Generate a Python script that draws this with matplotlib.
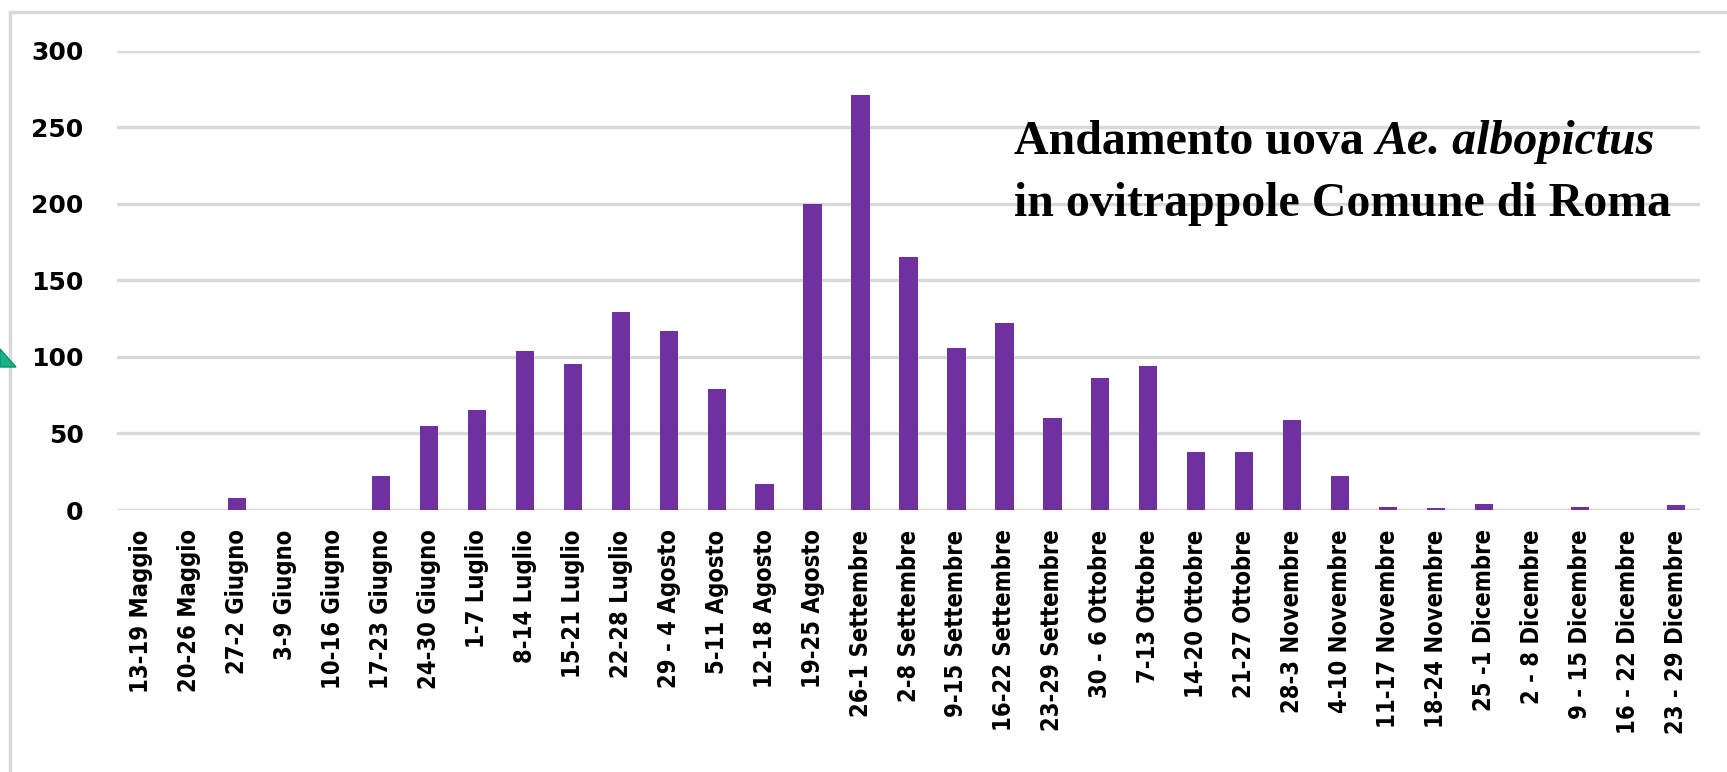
import matplotlib
matplotlib.use('Agg')
import matplotlib.pyplot as plt
from matplotlib.patches import Polygon, Rectangle

# Settimane di campionamento
settimane = ['13-19 Maggio', '20-26 Maggio', '27-2 Giugno', '3-9 Giugno',
             '10-16 Giugno', '17-23 Giugno', '24-30 Giugno', '1-7 Luglio',
             '8-14 Luglio', '15-21 Luglio', '22-28 Luglio', '29 - 4 Agosto',
             '5-11 Agosto', '12-18 Agosto', '19-25 Agosto', '26-1 Settembre',
             '2-8 Settembre', '9-15 Settembre', '16-22 Settembre',
             '23-29 Settembre', '30 - 6 Ottobre', '7-13 Ottobre',
             '14-20 Ottobre', '21-27 Ottobre', '28-3 Novembre',
             '4-10 Novembre', '11-17 Novembre', '18-24 Novembre',
             '25 -1 Dicembre', '2 - 8 Dicembre', '9 - 15 Dicembre',
             '16 - 22 Dicembre', '23 - 29 Dicembre']

# Uova
uova = [0, 0, 8, 0, 0, 22, 55, 65, 104, 95, 129, 117, 79, 17, 200, 271,
        165, 106, 122, 60, 86, 94, 38, 38, 59, 22, 2, 1, 4, 0, 2, 0, 3]

yticks = [0, 50, 100, 150, 200, 250, 300]

W, H = 1727, 772
fig = plt.figure(figsize=(W / 100, H / 100), dpi=100)
ax = fig.add_axes([117 / W, 1 - 510 / H, (1700 - 117) / W, (510 - 50.5) / H])

x = range(len(settimane))
ax.bar(x, uova, width=0.38, color='#7030A0', zorder=3)

ax.set_xlim(-0.5, len(settimane) - 0.5)
ax.set_ylim(0, 300)
ax.set_yticks(yticks)
ax.yaxis.grid(True, color='#d9d9d9', linewidth=2.4, zorder=0)
for s in ax.spines.values():
    s.set_visible(False)
ax.axhline(0, color='#d9d9d9', linewidth=2.4, zorder=1)

ax.set_xticks(list(x))
ax.set_xticklabels(settimane, rotation=90, va='top', ha='center',
                   family='DejaVu Sans', fontsize=17, fontweight='bold',
                   fontstretch='condensed')
ax.tick_params(axis='x', length=0, pad=14)
ax.tick_params(axis='y', length=0, pad=24)
for lab in ax.get_yticklabels():
    lab.set_fontsize(18)
    lab.set_fontweight('bold')
    lab.set_family('DejaVu Sans')

# Titolo dentro il grafico
fs = 34.5
tx, ty = 1014 / W, 1 - 154 / H
t1 = fig.text(tx, ty, 'Andamento uova ', family='Liberation Serif',
              fontweight='bold', fontsize=fs, va='baseline')
fig.canvas.draw()
bb = t1.get_window_extent()
fig.text(bb.x1 / W, ty, 'Ae. albopictus', family='Liberation Serif',
         fontweight='bold', fontstyle='italic', fontsize=fs, va='baseline')
fig.text(tx, 1 - 216 / H, 'in ovitrappole Comune di Roma',
         family='Liberation Serif', fontweight='bold', fontsize=fs,
         va='baseline')

# cornice grigia e freccia verde a sinistra
fig.add_artist(Rectangle((10 / W, -0.1), 1.2, 1 - 12 / H + 0.1,
                         transform=fig.transFigure, fill=False,
                         edgecolor='#d9d9d9', linewidth=2.5))
fig.add_artist(Polygon([(0, 1 - 349 / H), (16 / W, 1 - 367 / H), (0, 1 - 367 / H)],
                       closed=True, transform=fig.transFigure,
                       facecolor='#16b48a', edgecolor='#0d8f66', linewidth=1))

fig.savefig('out.png', dpi=100)
